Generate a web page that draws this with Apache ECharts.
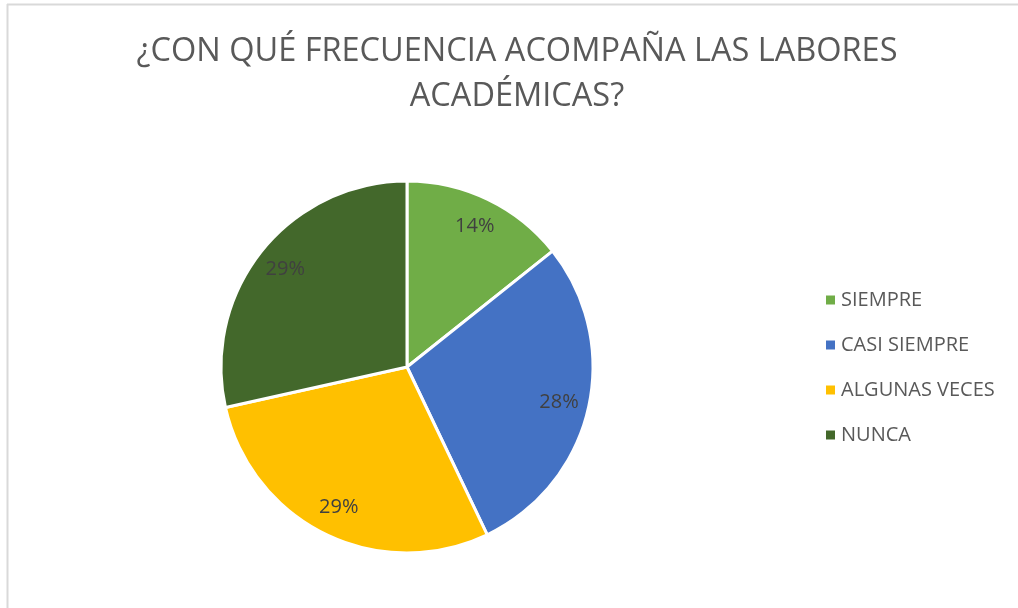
<!DOCTYPE html>
<html>
<head>
<meta charset="utf-8">
<script src="https://cdn.jsdelivr.net/npm/echarts@6/dist/echarts.min.js"></script>
<style>
  html, body { margin: 0; padding: 0; background: #fff; }
  #chart { width: 1018px; height: 608px; }
</style>
</head>
<body>
<div id="chart"></div>
<script>
const titleText = '¿CON QUÉ FRECUENCIA ACOMPAÑA LAS LABORES\nACADÉMICAS?'
const categories = ['SIEMPRE', 'CASI SIEMPRE', 'ALGUNAS VECES', 'NUNCA']
const shares = [14.3, 28.6, 28.6, 28.5]
const percentLabels = ['14%', '28%', '29%', '29%']
const colors = ['#70AD47', '#4472C4', '#FFC000', '#43682B']

const pieData = categories.map((name, i) => ({ name: name, value: shares[i] }))

const myChart = echarts.init(document.getElementById('chart'))
const option = {
  animation: false,
  color: colors,
  title: {
    text: titleText,
    left: 512,
    top: 24,
    textAlign: 'center',
    textStyle: {
      fontFamily: 'Open Sans',
      fontSize: 32.5,
      fontWeight: 'normal',
      color: '#595959',
      lineHeight: 45
    }
  },
  legend: {
    orient: 'vertical',
    left: 819,
    top: 285,
    itemWidth: 11,
    itemHeight: 11,
    itemGap: 25,
    icon: 'rect',
    data: categories,
    textStyle: {
      fontFamily: 'Open Sans',
      fontSize: 20,
      color: '#595959'
    }
  },
  graphic: [
    { type: 'line', shape: { x1: 7, y1: 4.5, x2: 1018, y2: 4.5 }, style: { stroke: '#d9d9d9', lineWidth: 2 } },
    { type: 'line', shape: { x1: 7.5, y1: 4, x2: 7.5, y2: 608 }, style: { stroke: '#d9d9d9', lineWidth: 2 } }
  ],
  series: [
    {
      type: 'pie',
      center: [407, 367],
      radius: 186,
      startAngle: 90,
      clockwise: true,
      data: pieData,
      label: { show: false },
      labelLine: { show: false },
      itemStyle: { borderColor: '#fff', borderWidth: 3 },
      emphasis: { disabled: true }
    },
    {
      // transparent layer, only to push the labels further out
      type: 'pie',
      center: [407, 367],
      radius: 306,
      startAngle: 90,
      clockwise: true,
      silent: true,
      data: pieData,
      itemStyle: { color: 'transparent' },
      label: {
        show: true,
        position: 'inside',
        formatter: p => percentLabels[p.dataIndex],
        fontFamily: 'Open Sans',
        fontSize: 20,
        color: '#404040'
      },
      labelLine: { show: false },
      emphasis: { disabled: true }
    }
  ]
}
myChart.setOption(option)
</script>
</body>
</html>
